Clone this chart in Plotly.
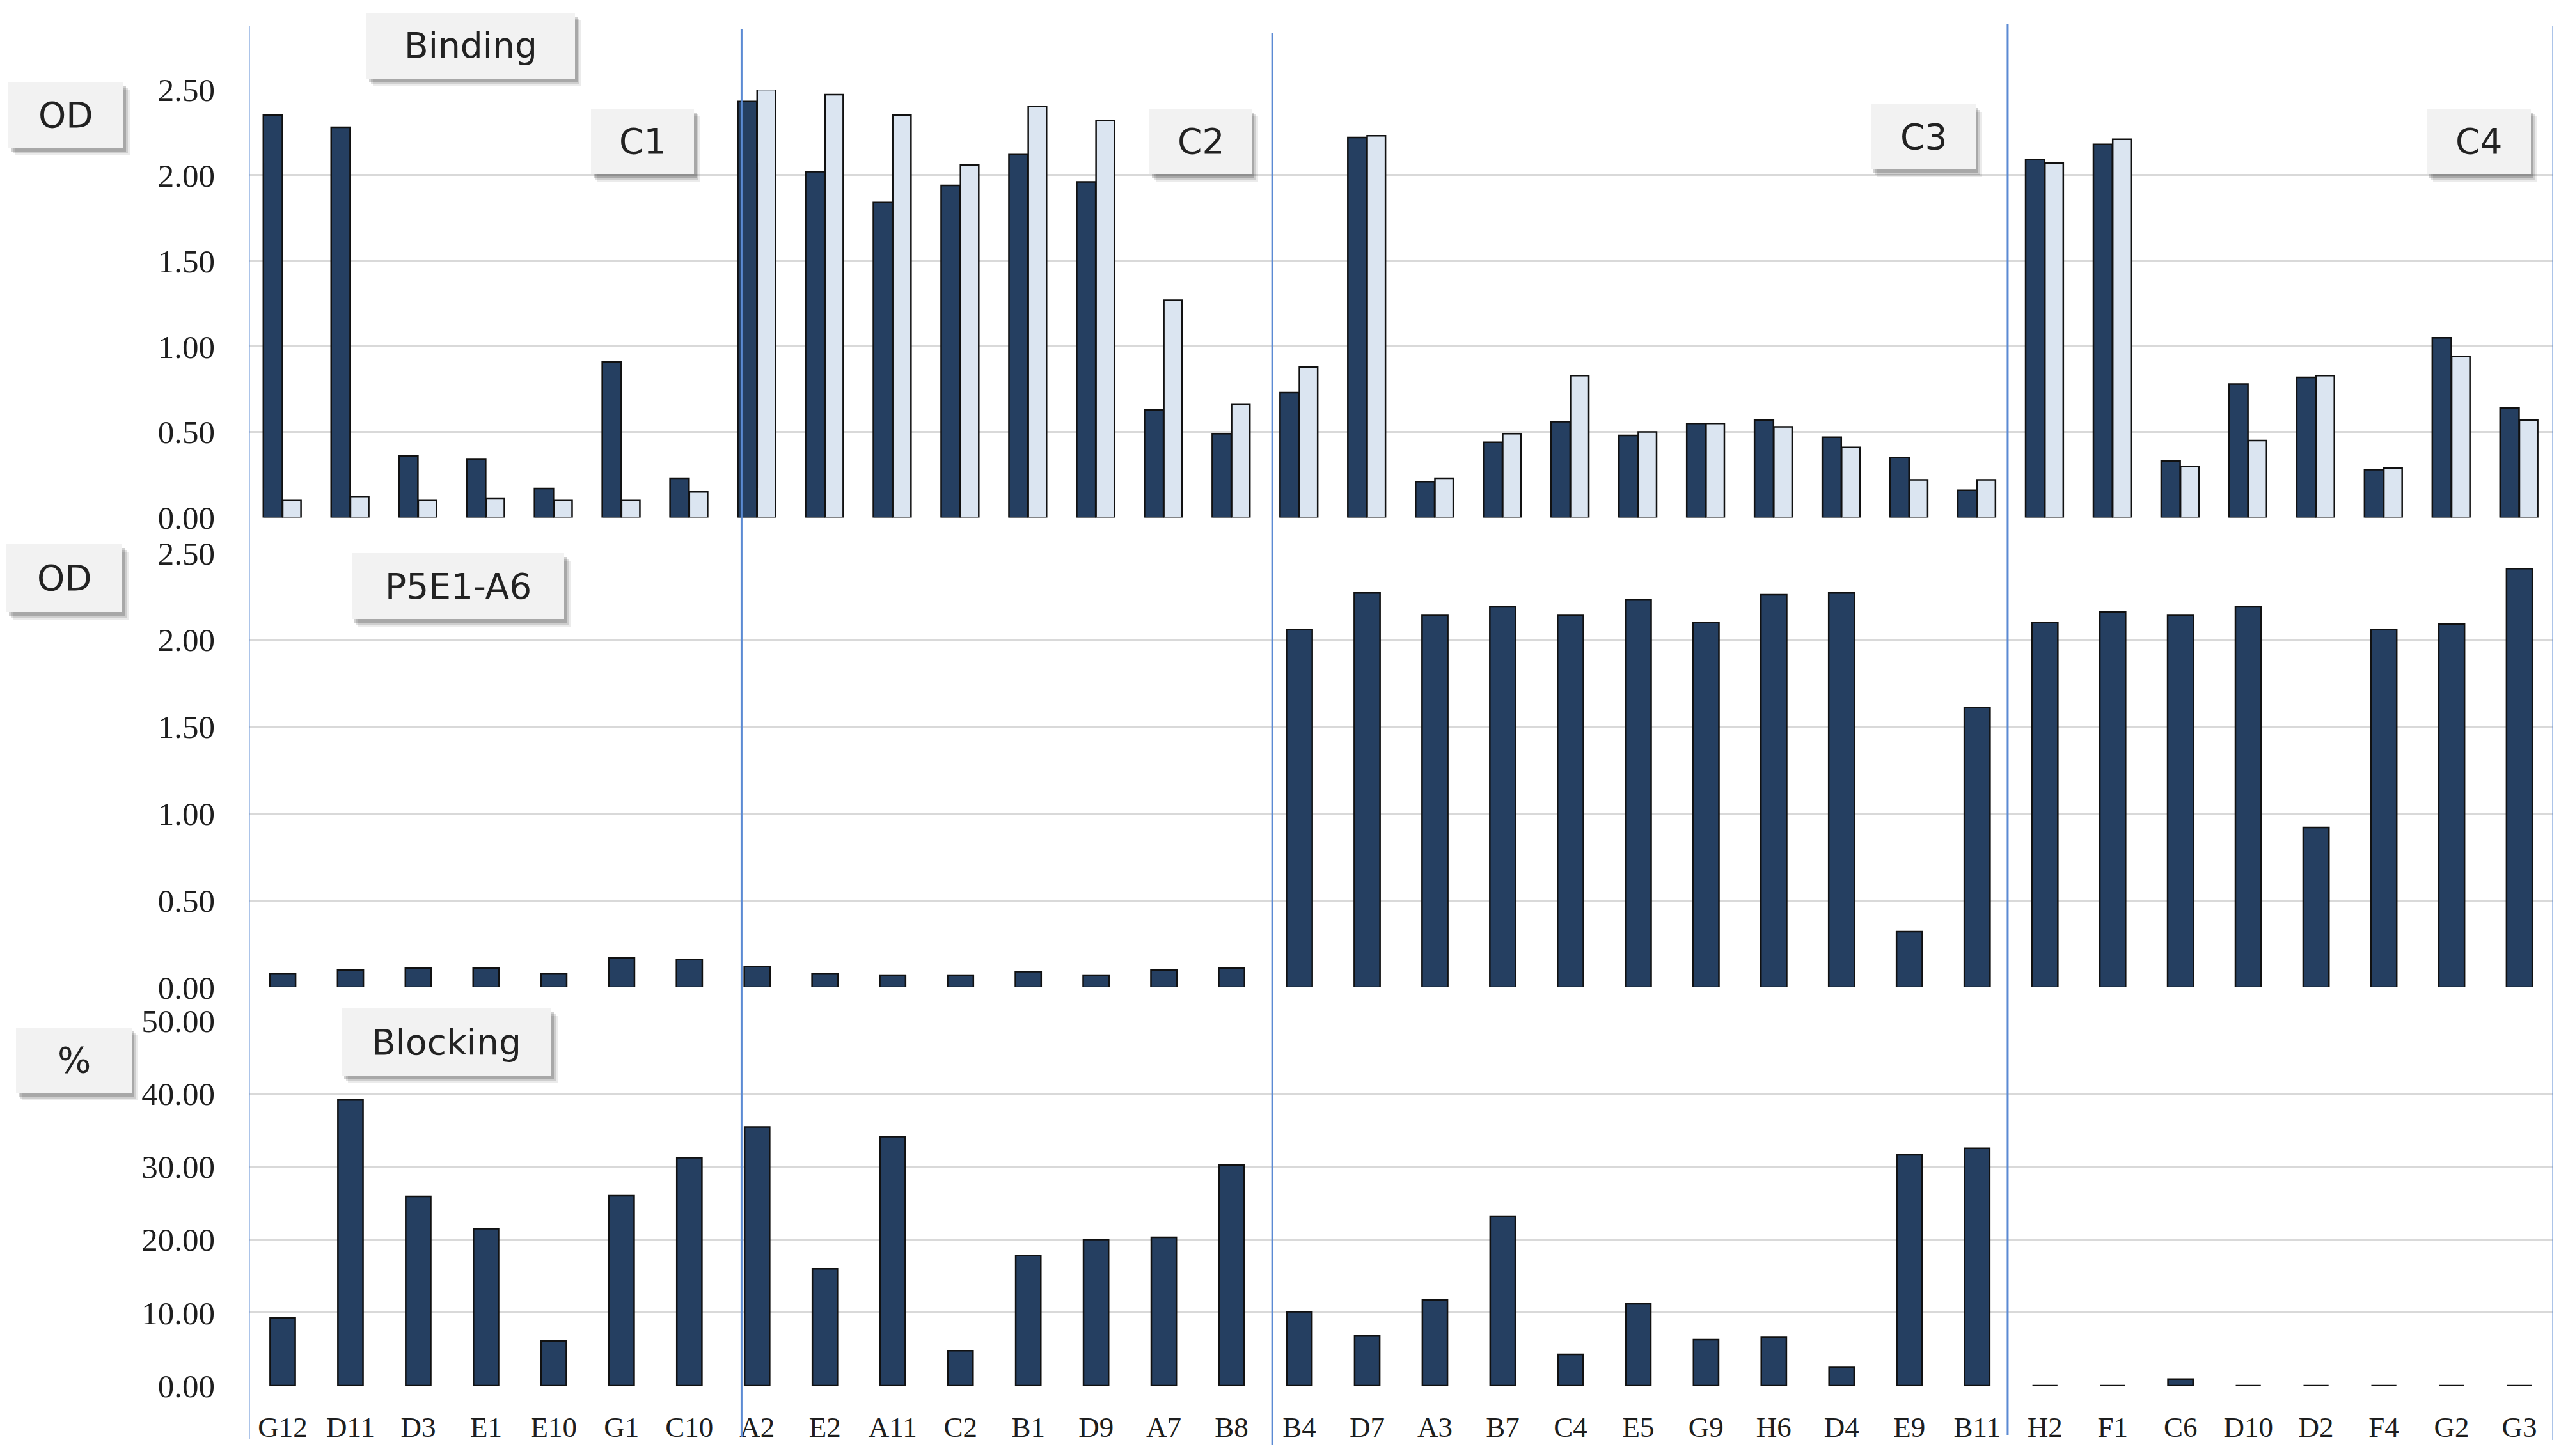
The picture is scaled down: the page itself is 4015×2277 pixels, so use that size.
import plotly.graph_objects as go

W, H = 4015, 2277
OFF = 10  # page offset compensation (px)

categories = ["G12", "D11", "D3", "E1", "E10", "G1", "C10",
              "A2", "E2", "A11", "C2", "B1", "D9", "A7", "B8",
              "B4", "D7", "A3", "B7", "C4", "E5", "G9", "H6", "D4", "E9", "B11",
              "H2", "F1", "C6", "D10", "D2", "F4", "G2", "G3"]

binding_dark = [2.35, 2.28, 0.36, 0.34, 0.17, 0.91, 0.23,
                2.43, 2.02, 1.84, 1.94, 2.12, 1.96, 0.63, 0.49,
                0.73, 2.22, 0.21, 0.44, 0.56, 0.48, 0.55, 0.57, 0.47, 0.35, 0.16,
                2.09, 2.18, 0.33, 0.78, 0.82, 0.28, 1.05, 0.64]
binding_light = [0.10, 0.12, 0.10, 0.11, 0.10, 0.10, 0.15,
                 2.50, 2.47, 2.35, 2.06, 2.40, 2.32, 1.27, 0.66,
                 0.88, 2.23, 0.23, 0.49, 0.83, 0.50, 0.55, 0.53, 0.41, 0.22, 0.22,
                 2.07, 2.21, 0.30, 0.45, 0.83, 0.29, 0.94, 0.57]
p5e1_a6 = [0.08, 0.10, 0.11, 0.11, 0.08, 0.17, 0.16,
           0.12, 0.08, 0.07, 0.07, 0.09, 0.07, 0.10, 0.11,
           2.06, 2.27, 2.14, 2.19, 2.14, 2.23, 2.10, 2.26, 2.27, 0.32, 1.61,
           2.10, 2.16, 2.14, 2.19, 0.92, 2.06, 2.09, 2.41]
blocking = [9.3, 39.1, 25.9, 21.5, 6.1, 26.0, 31.2,
            35.4, 16.0, 34.1, 4.8, 17.8, 20.0, 20.3, 30.2,
            10.1, 6.8, 11.7, 23.2, 4.3, 11.2, 6.3, 6.6, 2.5, 31.6, 32.5,
            0.0, 0.0, 0.9, 0.0, 0.0, 0.0, 0.0, 0.0]

od_ticks = [0, 0.5, 1.0, 1.5, 2.0, 2.5]
pct_ticks = [0, 10, 20, 30, 40, 50]

DARK = "#253f61"
LIGHT = "#dbe5f1"
EDGE = "#111111"
GRID = "#d9d9d9"
SEP = "#5b8ad3"
SERIF = "Liberation Serif"
SANS = "DejaVu Sans"


def px(x):
    return (x - OFF) / W


def py(y):
    return 1 - (y - OFF) / H


fig = go.Figure()

fig.add_trace(go.Bar(x=categories, y=binding_dark, xaxis="x", yaxis="y",
                     marker=dict(color=DARK, line=dict(color=EDGE, width=2.5)),
                     offset=-0.285, width=0.28, showlegend=False))
fig.add_trace(go.Bar(x=categories, y=binding_light, xaxis="x", yaxis="y",
                     marker=dict(color=LIGHT, line=dict(color=EDGE, width=2.5)),
                     offset=0.0, width=0.27, showlegend=False))
fig.add_trace(go.Bar(x=categories, y=p5e1_a6, xaxis="x2", yaxis="y2",
                     marker=dict(color=DARK, line=dict(color=EDGE, width=2.5)),
                     width=0.38, showlegend=False))
fig.add_trace(go.Bar(x=categories, y=blocking, xaxis="x3", yaxis="y3",
                     marker=dict(color=DARK, line=dict(color=EDGE, width=2.5)),
                     width=0.37, showlegend=False))

xdom = [px(391), px(3994)]


def ydom(top_px, bot_px):
    return [py(bot_px), py(top_px)]


xbase = dict(type="category", domain=xdom, range=[-0.5, 33.5], showgrid=False,
             zeroline=False, showline=False, ticks="", categoryorder="array",
             categoryarray=categories, automargin=False)
ybase = dict(showgrid=True, gridcolor=GRID, gridwidth=2.5, zeroline=False,
             showline=False, ticks="", tickformat=".2f", automargin=False,
             tickfont=dict(family=SERIF, size=51, color="#1e1e1e"),
             ticklabelstandoff=52)

fig.update_layout(
    template="none",
    width=W, height=H,
    margin=dict(l=0, r=0, t=0, b=0, pad=0, autoexpand=False),
    paper_bgcolor="white", plot_bgcolor="white",
    barmode="overlay",
    xaxis=dict(xbase, anchor="y", showticklabels=False),
    xaxis2=dict(xbase, anchor="y2", showticklabels=False),
    xaxis3=dict(xbase, anchor="y3", showticklabels=True,
                tickfont=dict(family=SERIF, size=45, color="#1e1e1e"),
                ticklabelstandoff=34),
    yaxis=dict(ybase, domain=ydom(142, 811.5), range=[0, 2.5], tickvals=od_ticks, anchor="x"),
    yaxis2=dict(ybase, domain=ydom(866.8, 1546), range=[0, 2.5], tickvals=od_ticks, anchor="x2"),
    yaxis3=dict(ybase, domain=ydom(1597.8, 2169), range=[0, 50], tickvals=pct_ticks, anchor="x3"),
)

shapes = []
# vertical separators between groups
sep_positions = [-0.5, 6.77, 14.6, 25.45, 33.5]
sep_tops = [43, 48, 54, 39, 43]
sep_bots = [2252, 2250, 2262, 2246, 2254]
for xp, t, b in zip(sep_positions, sep_tops, sep_bots):
    shapes.append(dict(type="line", xref="x", yref="paper", x0=xp, x1=xp,
                       y0=py(b), y1=py(t),
                       line=dict(color=SEP, width=3), layer="above"))

annotations = []
boxes = [
    ("OD", 15, 195, 130, 233),
    ("Binding", 575, 901, 22, 125),
    ("C1", 926, 1087, 172, 274),
    ("C2", 1799, 1959, 172, 274),
    ("C3", 2927, 3091, 165, 267),
    ("C4", 3796, 3959, 172, 274),
    ("OD", 12, 193, 853, 959),
    ("P5E1-A6", 552, 884, 867, 970),
    ("%", 27, 208, 1609, 1711),
    ("Blocking", 536, 864, 1579, 1684),
]
for text, x0, x1, y0, y1 in boxes:
    for dx, dy, op in [(10, 12, 0.08), (7, 9, 0.12), (4, 6, 0.18)]:
        shapes.append(dict(type="rect", xref="paper", yref="paper",
                           x0=px(x0 + dx), x1=px(x1 + dx),
                           y0=py(y1 + dy), y1=py(y0 + dy),
                           fillcolor=f"rgba(0,0,0,{op})", line=dict(width=0),
                           layer="above"))
    shapes.append(dict(type="rect", xref="paper", yref="paper",
                       x0=px(x0), x1=px(x1), y0=py(y1), y1=py(y0),
                       fillcolor="#f2f2f2", line=dict(width=0), layer="above"))
    annotations.append(dict(text=text, xref="paper", yref="paper",
                            x=px((x0 + x1) / 2), y=py((y0 + y1) / 2),
                            xanchor="center", yanchor="middle", showarrow=False,
                            font=dict(family=SANS, size=55, color="#222222")))

fig.update_layout(shapes=shapes, annotations=annotations)

fig.write_html("out.html")
